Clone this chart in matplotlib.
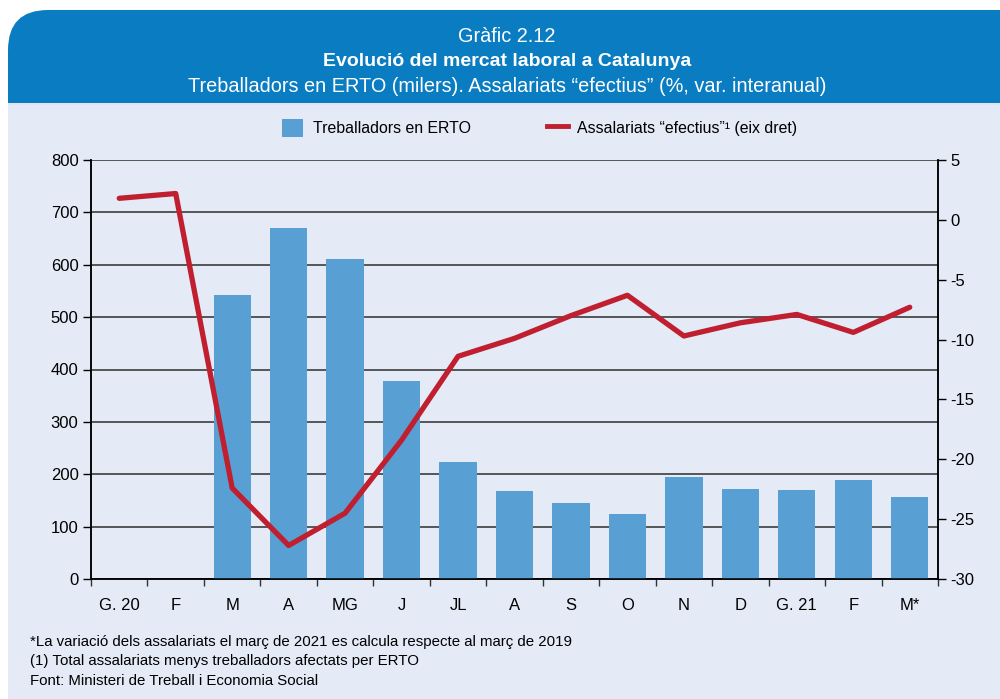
import numpy as np
import matplotlib
matplotlib.use('Agg')
import matplotlib.pyplot as plt
from matplotlib.patches import FancyBboxPatch, Rectangle
from matplotlib.lines import Line2D
from matplotlib.ticker import FixedLocator

plt.rcParams['font.family'] = ['Liberation Sans', 'DejaVu Sans']
plt.rcParams['axes.unicode_minus'] = False

#%% data
mesos = ['G. 20', 'F', 'M', 'A', 'MG', 'J', 'JL', 'A', 'S', 'O', 'N', 'D', 'G. 21', 'F', 'M*']
erto = [0, 0, 542, 670, 611, 378, 223, 168, 145, 124, 195, 172, 170, 189, 156]
assalariats = [1.8, 2.2, -22.4, -27.2, -24.5, -18.4, -11.4, -9.9, -8.0, -6.3, -9.7, -8.6, -7.9, -9.4, -7.3]

blau_cap = '#0a7dc2'
fons = '#e4eaf6'
blau_barra = '#58a0d3'
vermell = '#c01f30'

#%% figure + card
fig = plt.figure(figsize=(10, 6.99), dpi=100)
W, H = 1000, 699
card = FancyBboxPatch((8 / W, -60 / H), 1.2, (689 + 60) / H,
                      boxstyle='round,pad=0,rounding_size=0.04',
                      transform=fig.transFigure, facecolor=blau_cap,
                      edgecolor='none', zorder=-3, mutation_aspect=W / H)
fig.patches.append(card)
fig.patches.append(Rectangle((8 / W, 0), 1, 594 / H, transform=fig.transFigure,
                             facecolor=fons, edgecolor='none', zorder=-2))
fig.patches.append(Rectangle((8 / W, 594 / H), 1, 2 / H, transform=fig.transFigure,
                             facecolor='#dfe6f2', edgecolor='none', zorder=-2))

fig.text(0.507, 1 - 37 / H, 'Gràfic 2.12', ha='center', va='center',
         color='white', fontsize=14.3)
fig.text(0.507, 1 - 61 / H, 'Evolució del mercat laboral a Catalunya', ha='center',
         va='center', color='white', fontsize=14, fontweight='bold')
fig.text(0.507, 1 - 86 / H, 'Treballadors en ERTO (milers). Assalariats “efectius” (%, var. interanual)',
         ha='center', va='center', color='white', fontsize=14.3)

#%% axes
ax = fig.add_axes([91 / W, 1 - 579 / H, 847 / W, 419 / H])
ax.set_facecolor('none')
x = np.arange(len(mesos))
ax.bar(x, erto, width=0.66, color=blau_barra, zorder=3)
ax.set_xlim(-0.5, len(mesos) - 0.5)
ax.set_ylim(0, 800)
ax.set_yticks(range(0, 801, 100))
ax.yaxis.grid(True, color='#4a4a4a', lw=1.3, zorder=1)
ax.set_axisbelow(True)
ax.set_xticks(x)
ax.set_xticklabels(mesos, fontsize=12)
ax.xaxis.set_minor_locator(FixedLocator(np.arange(-0.5, len(mesos), 1.0)))
ax.tick_params(axis='x', which='major', length=0, pad=14)
ax.tick_params(axis='x', which='minor', length=5, width=1, color='#333333')
ax.tick_params(axis='y', length=6, width=1, labelsize=12, pad=3)
for s in ['left', 'right', 'bottom']:
    ax.spines[s].set_color('black')
    ax.spines[s].set_linewidth(1.1)
ax.spines['top'].set_visible(False)

ax2 = ax.twinx()
ax2.plot(x, assalariats, color=vermell, lw=3.8, zorder=5, solid_capstyle='round')
ax2.set_ylim(-30, 5)
ax2.set_yticks(range(-30, 6, 5))
ax2.tick_params(axis='y', length=6, width=1, labelsize=12, pad=3)
for s in ['left', 'right', 'bottom']:
    ax2.spines[s].set_color('black')
    ax2.spines[s].set_linewidth(1.1)
ax2.spines['top'].set_visible(False)

#%% legend
handles = [Rectangle((0, 0), 1, 1, facecolor=blau_barra),
           Line2D([0], [0], color=vermell, lw=3.5)]
fig.legend(handles, ['Treballadors en ERTO', 'Assalariats “efectius”¹ (eix dret)'],
           loc='center', bbox_to_anchor=(0.54, 1 - 128 / H), ncol=2, frameon=False,
           fontsize=11.4, columnspacing=4.85, handlelength=1.3, handleheight=1.3,
           handletextpad=0.6)

#%% notes
notes = ['*La variació dels assalariats el març de 2021 es calcula respecte al març de 2019',
         '(1) Total assalariats menys treballadors afectats per ERTO',
         'Font: Ministeri de Treball i Economia Social']
for i, t in enumerate(notes):
    fig.text(30 / W, 1 - (642 + i * 19.5) / H, t, ha='left', va='center', fontsize=10.8)

fig.savefig('out.png', dpi=100)
